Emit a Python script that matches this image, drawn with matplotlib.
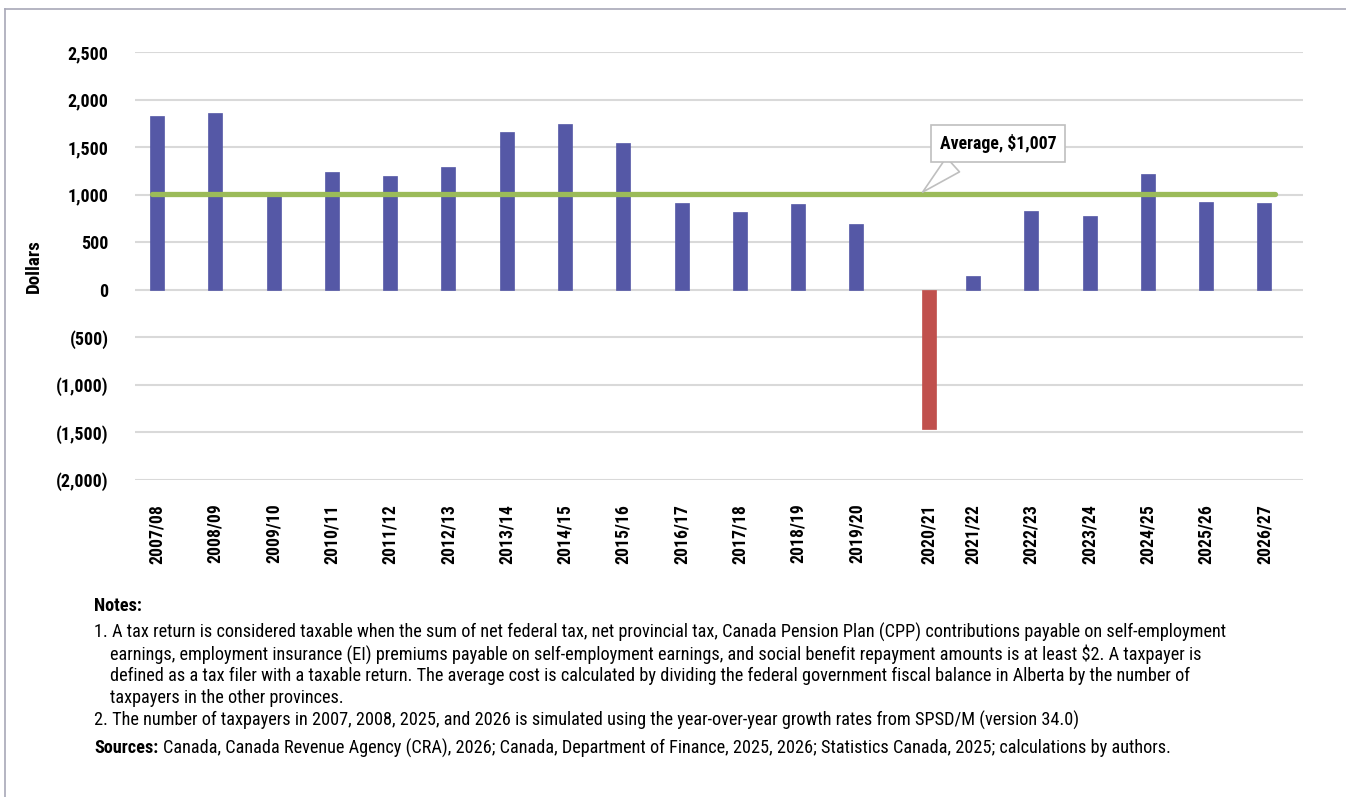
import matplotlib.pyplot as plt
from matplotlib.lines import Line2D
from matplotlib import font_manager

names = {f.name for f in font_manager.fontManager.ttflist}
if "Roboto Condensed" in names:
    FONT = ["Roboto Condensed", "DejaVu Sans"]
    SQ = 1.0
else:
    FONT = ["Roboto", "DejaVu Sans"]
    SQ = 0.88
plt.rcParams["font.family"] = FONT

years = ["2007/08", "2008/09", "2009/10", "2010/11", "2011/12", "2012/13",
         "2013/14", "2014/15", "2015/16", "2016/17", "2017/18", "2018/19",
         "2019/20", "2020/21", "2021/22", "2022/23", "2023/24", "2024/25",
         "2025/26", "2026/27"]
cost = [1830, 1860, 985, 1240, 1195, 1295, 1660, 1740, 1540, 910,
        815, 900, 690, -1460, 145, 830, 780, 1220, 920, 910]
average = 1007

blue = "#5558a6"
red = "#c0504d"
green = "#9bbb59"
grid = "#d9d9d9"

# the negative year sits a bit right of its slot in the original
xpos = [i + (0.24 if v < 0 else 0) for i, v in enumerate(cost)]

fig = plt.figure(figsize=(13.46, 7.97), dpi=100)
ax = fig.add_axes([0.1003, 0.3977, 0.8677, 0.5371])

cols = [red if v < 0 else blue for v in cost]
ax.bar(xpos, cost, width=0.24, color=cols, edgecolor=cols, lw=0.5, zorder=3)
ax.plot([-0.09, 19.18], [average, average], color=green, lw=3.8,
        solid_capstyle="round", zorder=4)

ax.set_ylim(-2000, 2500)
ax.set_xlim(-0.377, 19.66)
ax.set_yticks(range(-2000, 2501, 500))
ax.set_yticklabels(["({:,})".format(-t) if t < 0 else "{:,}".format(t)
                    for t in range(-2000, 2501, 500)],
                   fontsize=12.5 * SQ + 0.5, fontweight="bold")
ax.set_xticks(xpos)
ax.set_xticklabels(years, rotation=90, fontsize=12 * SQ + 0.7, fontweight="bold")
ax.tick_params(axis="x", length=0, pad=17)
ax.tick_params(axis="y", length=0, pad=19)
ax.grid(axis="y", color=grid, lw=1.5, zorder=0)
for s in ax.spines.values():
    s.set_visible(False)
ax.set_ylabel("Dollars", fontsize=13 * SQ + 0.7, fontweight="bold")
ax.yaxis.set_label_coords(-0.079, 0.5)

ax.annotate("Average, $1,007", xy=(13.1, average), xytext=(14.43, 1535),
            ha="center", va="center", fontsize=12.5 * SQ + 0.3, fontweight="bold",
            bbox=dict(boxstyle="square,pad=0.5", fc="white", ec="#bfbfbf", lw=1.2),
            arrowprops=dict(arrowstyle="wedge,tail_width=1.1,shrink_factor=0.5",
                            relpos=(0.22, 0.0), fc="white", ec="#bfbfbf", lw=1.2),
            zorder=6)

# frame lines on the left and top
fig.add_artist(Line2D([0.004, 0.004], [0, 0.989], color="#a8a8b8", lw=1.2))
fig.add_artist(Line2D([0.004, 1], [0.989, 0.989], color="#a8a8b8", lw=1.2))

fs = 12.65 * SQ + 0.5
x0 = 94 / 1346
x1 = 110 / 1346
fig.text(x0, 1 - 606 / 797, "Notes:", fontsize=fs, fontweight="bold", va="center")
lines = [
    (x0, 632, "1. A tax return is considered taxable when the sum of net federal tax, net provincial tax, Canada Pension Plan (CPP) contributions payable on self-employment"),
    (x1, 654, "earnings, employment insurance (EI) premiums payable on self-employment earnings, and social benefit repayment amounts is at least $2. A taxpayer is"),
    (x1, 676, "defined as a tax filer with a taxable return. The average cost is calculated by dividing the federal government fiscal balance in Alberta by the number of"),
    (x1, 698, "taxpayers in the other provinces."),
    (x0, 720, "2. The number of taxpayers in 2007, 2008, 2025, and 2026 is simulated using the year-over-year growth rates from SPSD/M (version 34.0)"),
]
for x, y, t in lines:
    fig.text(x, 1 - y / 797, t, fontsize=fs, va="center")
src = fig.text(x0, 1 - 748 / 797, "Sources:", fontsize=fs, fontweight="bold", va="center")
fig.canvas.draw()
bb = src.get_window_extent().transformed(fig.transFigure.inverted())
fig.text(bb.x1 + 5 / 1346, 1 - 748 / 797,
         "Canada, Canada Revenue Agency (CRA), 2026; Canada, Department of Finance, 2025, 2026; Statistics Canada, 2025; calculations by authors.",
         fontsize=fs, va="center")

fig.savefig("out.png", dpi=100)
